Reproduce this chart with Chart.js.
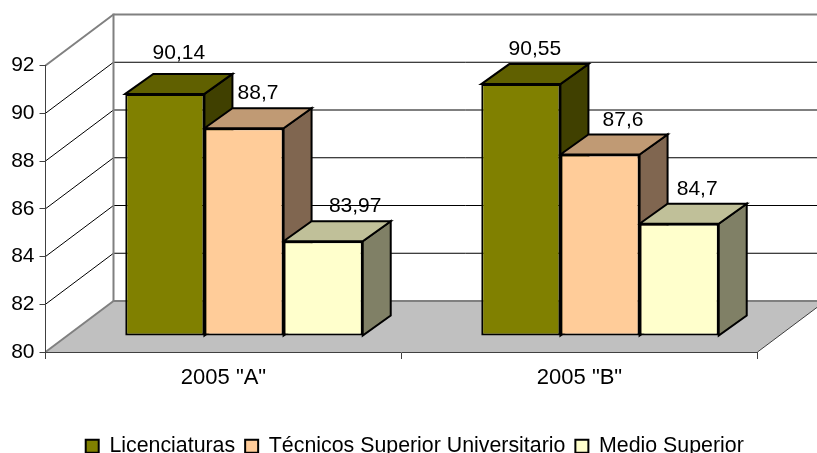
<!DOCTYPE html>
<html>
<head>
<meta charset="utf-8">
<script src="https://cdn.jsdelivr.net/npm/chart.js@4"></script>
<style>html,body{margin:0;padding:0;background:#fff;overflow:hidden}canvas{display:block}</style>
</head>
<body>
<canvas id="c" width="817" height="453"></canvas>
<script>
const categories = ['2005 "A"', '2005 "B"'];
const seriesNames = ['Licenciaturas', 'Técnicos Superior Universitario', 'Medio Superior'];
const licenciaturas = [90.14, 90.55];
const tecnicos = [88.7, 87.6];
const medioSuperior = [83.97, 84.7];
const frontColors = ['#808000', '#FFCC99', '#FFFFCC'];
const topColors = ['#606000', '#C09A74', '#C0C099'];
const sideColors = ['#404000', '#806650', '#808066'];

const FONT = '"Liberation Sans", Arial, sans-serif';
const FS = 21;
const wall = {dx: 68, dy: 51};
const shift = {dx: 20.5, dy: 16};
const depth = {dx: 28, dy: 20};
// hand-placed label offsets seen in the reference: [series][category] -> [dx, dy]
const labelNudge = [[[0, -6], [0, 0]], [[0, 0], [9, 0]], [[18, 0], [4, 0]]];

function poly(ctx, pts, fill, stroke, lw) {
  ctx.beginPath();
  pts.forEach((p, i) => i ? ctx.lineTo(p[0], p[1]) : ctx.moveTo(p[0], p[1]));
  ctx.closePath();
  if (fill) { ctx.fillStyle = fill; ctx.fill(); }
  if (stroke) { ctx.strokeStyle = stroke; ctx.lineWidth = lw; ctx.lineJoin = 'miter'; ctx.stroke(); }
}
function seg(ctx, x1, y1, x2, y2, color, lw) {
  ctx.beginPath(); ctx.moveTo(x1, y1); ctx.lineTo(x2, y2);
  ctx.strokeStyle = color; ctx.lineWidth = lw; ctx.stroke();
}

const bars3d = {
  id: 'bars3d',
  afterLayout(chart) {
    const lg = chart.legend;
    lg.top += 14; lg.bottom += 14;
    lg.left += 36; lg.right += 36;
  },
  beforeDraw(chart) {
    const {ctx, chartArea: a, scales: {y}} = chart;
    const L = a.left, R = a.right, B = a.bottom, W = chart.width;
    ctx.save();
    poly(ctx, [[L, B], [L + wall.dx, B - wall.dy], [R + wall.dx, B - wall.dy], [R, B]], '#C0C0C0');
    seg(ctx, R, B, R + wall.dx, B - wall.dy, '#404040', 1);
    y.ticks.forEach(t => {
      const py = y.getPixelForValue(t.value);
      const edge = t.value === y.min || t.value === y.max;
      const col = edge ? '#808080' : '#000000';
      const lw = edge ? 2 : 1;
      seg(ctx, L, py, L + wall.dx, py - wall.dy, col, lw);
      seg(ctx, L + wall.dx, py - wall.dy, W + 2, py - wall.dy, col, lw);
    });
    seg(ctx, L + wall.dx, y.getPixelForValue(y.max) - wall.dy - 1, L + wall.dx, B - wall.dy + 1, '#808080', 2);
    ctx.restore();
  },
  beforeDatasetsDraw(chart) {
    const {ctx} = chart;
    ctx.save();
    chart.data.datasets.forEach((ds, i) => {
      chart.getDatasetMeta(i).data.forEach(el => {
        const l = el.x - el.width / 2 + shift.dx, r = el.x + el.width / 2 + shift.dx;
        const t = el.y - shift.dy, b = el.base - shift.dy;
        poly(ctx, [[r, t], [r + depth.dx, t - depth.dy], [r + depth.dx, b - depth.dy], [r, b]], sideColors[i], '#000', 2);
        poly(ctx, [[l, t], [l + depth.dx, t - depth.dy], [r + depth.dx, t - depth.dy], [r, t]], topColors[i], '#000', 2);
      });
    });
    ctx.restore();
  },
  beforeDatasetDraw(chart) {
    chart.ctx.save();
    chart.ctx.translate(shift.dx, -shift.dy);
  },
  afterDatasetDraw(chart) {
    chart.ctx.restore();
  },
  afterDatasetsDraw(chart) {
    const {ctx} = chart;
    ctx.save();
    ctx.font = FS + 'px ' + FONT;
    ctx.fillStyle = '#000';
    ctx.textAlign = 'center';
    ctx.textBaseline = 'alphabetic';
    chart.data.datasets.forEach((ds, i) => {
      chart.getDatasetMeta(i).data.forEach((el, j) => {
        const n = labelNudge[i][j];
        const txt = String(ds.data[j]).replace('.', ',');
        ctx.fillText(txt, el.x + shift.dx + depth.dx / 2 + n[0], el.y - shift.dy - depth.dy - 9 + n[1]);
      });
    });
    ctx.restore();
  }
};

const allValues = [licenciaturas, tecnicos, medioSuperior];
new Chart(document.getElementById('c'), {
  type: 'bar',
  data: {
    labels: categories,
    datasets: seriesNames.map((name, i) => ({
      label: name,
      data: allValues[i],
      base: 80,
      backgroundColor: frontColors[i],
      borderColor: '#000000',
      borderWidth: 2,
      borderSkipped: false,
      categoryPercentage: 0.667,
      barPercentage: 1,
      clip: false
    }))
  },
  plugins: [bars3d],
  options: {
    responsive: false,
    animation: false,
    layout: {padding: {top: 65.5, right: 59.5, left: 0, bottom: 0}},
    scales: {
      x: {
        grid: {drawOnChartArea: false, color: '#404040', tickLength: 7, offset: true},
        border: {color: '#404040', width: 1},
        ticks: {color: '#000', font: {family: FONT, size: 22}, padding: 6, maxRotation: 0},
        afterFit(s) { s.height = 59.65; }
      },
      y: {
        min: 80, max: 92,
        grid: {drawOnChartArea: false, color: '#404040', tickLength: 6},
        border: {color: '#404040', width: 1},
        ticks: {stepSize: 2, color: '#000', font: {family: FONT, size: FS}, padding: 5},
        afterFit(s) { s.width = 45.5; }
      }
    },
    plugins: {
      tooltip: {enabled: false},
      title: {display: false},
      legend: {
        display: true,
        position: 'bottom',
        labels: {boxWidth: 13, boxHeight: 13, padding: 10, color: '#000', font: {family: FONT, size: 21.35}}
      }
    }
  }
});
</script>
</body>
</html>
